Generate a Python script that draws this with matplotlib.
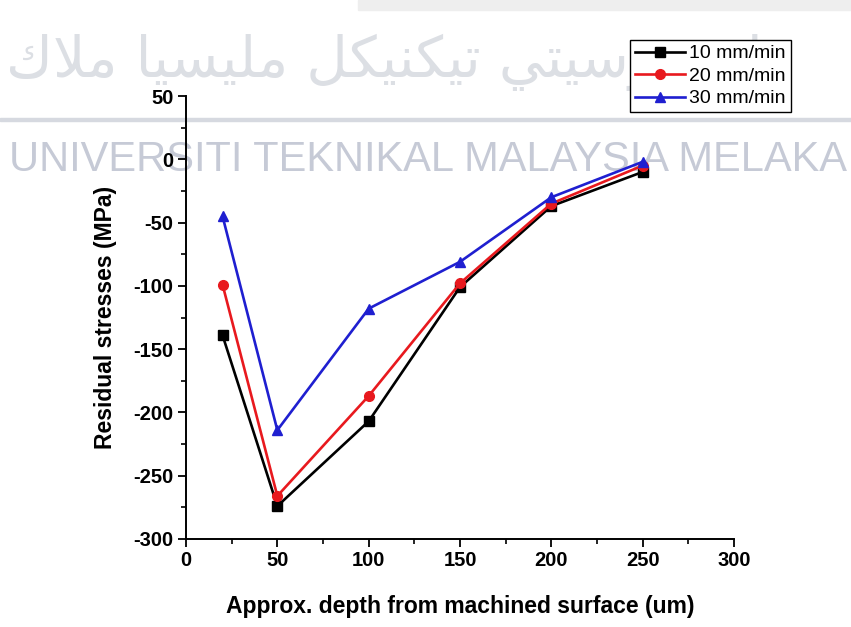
import matplotlib
matplotlib.use("Agg")
import matplotlib.pyplot as plt
from matplotlib.ticker import MultipleLocator
from matplotlib.patches import Rectangle

# ---- data ----
depth = [20, 50, 100, 150, 200, 250]
s10 = [-139, -274, -207, -101, -37, -10]
s20 = [-99, -266, -187, -98, -35, -5]
s30 = [-45, -214, -118, -81, -30, -2]
series_labels = ["10 mm/min", "20 mm/min", "30 mm/min"]
x_label = "Approx. depth from machined surface (um)"
y_label = "Residual stresses (MPa)"
watermark_latin = "UNIVERSITI TEKNIKAL MALAYSIA MELAKA"

plt.rcParams['font.family'] = ['Liberation Sans', 'DejaVu Sans']
plt.rcParams['axes.unicode_minus'] = False

W, H = 851, 627
fig = plt.figure(figsize=(W / 100, H / 100), dpi=100)
fig.patch.set_facecolor('white')

# ---- watermark (behind the plot) ----
# Jawi text, pre-shaped with presentation forms, in visual (left-to-right) order
w1 = ['\uFE8D', '\uFEED', '\uFEE7', '\uFEF4', '\uFEEE', '\uFEAD', '\uFEB3', '\uFEF4', '\uFE98', '\uFEF2']
w2 = ['\uFE97', '\uFEF4', '\uFEDC', '\uFEE8', '\uFEF4', '\uFEDC', '\uFEDE']
w3 = ['\uFEE3', '\uFEE0', '\uFEF4', '\uFEB4', '\uFEF4', '\uFE8E']
w4 = ['\uFEE3', '\uFEFC', '\uFED9']
jawi = ' '.join(''.join(reversed(w)) for w in [w4, w3, w2, w1])
fig.text(6 / W, 1 - 62 / H, jawi, fontsize=41, color='#dcdfe4', ha='left', va='center',
         family=['DejaVu Sans'], zorder=0)
fig.patches.append(Rectangle((0, 1 - 121 / H), 1, 3 / H, transform=fig.transFigure,
                             color='#d6d9e0', zorder=0))
fig.patches.append(Rectangle((358 / W, 1 - 10 / H), 1, 10 / H, transform=fig.transFigure,
                             color='#eeeeee', zorder=0))
fig.text(428 / W, 1 - 160 / H, watermark_latin, fontsize=30, color='#c6cad6',
         ha='center', va='center', zorder=0)

# ---- axes ----
ax = fig.add_axes([186 / W, 1 - 539 / H, (734 - 186) / W, (539 - 96) / H])
ax.set_facecolor('none')
ax.set_zorder(2)

styles = [('black', 's'), ('#e8191e', 'o'), ('#1f1fd0', '^')]
for vals, lab, (c, m) in zip([s10, s20, s30], series_labels, styles):
    ax.plot(depth, vals, color=c, marker=m, markersize=7, linewidth=1.9, label=lab)

ax.set_xlim(0, 300)
ax.set_ylim(-300, 50)
ax.xaxis.set_major_locator(MultipleLocator(50))
ax.xaxis.set_minor_locator(MultipleLocator(25))
ax.yaxis.set_major_locator(MultipleLocator(50))
ax.yaxis.set_minor_locator(MultipleLocator(25))
for s in ['top', 'right']:
    ax.spines[s].set_visible(False)
for s in ['left', 'bottom']:
    ax.spines[s].set_linewidth(1.4)
ax.tick_params(which='major', direction='out', length=6, width=1.3, labelsize=14.5, pad=3)
ax.tick_params(which='minor', direction='out', length=3.5, width=1.2)
for t in ax.get_xticklabels() + ax.get_yticklabels():
    t.set_fontweight('bold')

ax.set_xlabel(x_label, fontsize=16.5, fontweight='bold', labelpad=18)
ax.set_ylabel(y_label, fontsize=16.5, fontweight='bold', labelpad=12)

leg = fig.legend(loc='upper left', bbox_to_anchor=(630 / W, 1 - 40 / H),
                 bbox_transform=fig.transFigure, fontsize=14, frameon=True,
                 fancybox=False, edgecolor='black', framealpha=1, borderpad=0.25,
                 labelspacing=0.25, handlelength=2.6, handletextpad=0.2,
                 borderaxespad=0)
leg.get_frame().set_linewidth(1.0)
leg.set_zorder(5)

fig.savefig('out.png', dpi=100)
